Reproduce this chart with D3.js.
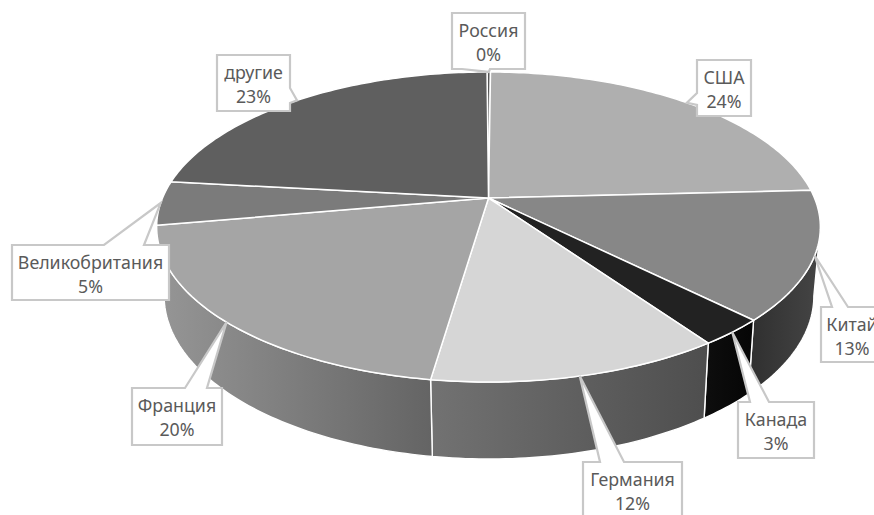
<!DOCTYPE html>
<html lang="ru">
<head>
<meta charset="utf-8">
<script src="https://cdn.jsdelivr.net/npm/d3@7"></script>
<style>
html,body{margin:0;padding:0;background:#fff;overflow:hidden}
svg{display:block}
text{font-family:"Noto Sans",sans-serif;font-size:17.8px;fill:#5a5a5a;text-anchor:middle}
</style>
</head>
<body>
<svg id="chart" width="874" height="515"></svg>
<script>
// Data (order is clockwise from the top)
const categories = ["Россия","США","Китай","Канада","Германия","Франция","Великобритания","другие"];
const shares     = [0.2, 24.1, 13.4, 2.8, 12.0, 19.9, 4.6, 23.2];
const shareLabels = ["0%","24%","13%","3%","12%","20%","5%","23%"];

// Styles
const faceColors = ["#555555","#afafaf","#878787","#222222","#d6d6d6","#a5a5a5","#7b7b7b","#5f5f5f"];
const wallStops  = [null,null,["#2f2f2f","#454545"],["#0e0e0e","#050505"],["#727272","#4e4e4e"],["#969696","#646464"],null,null];

// Label boxes: [x0, y0, x1, y1, edge, tailBaseA, tailBaseB]
const labelBoxes = [
  [452, 13, 525, 69, "bottom", 462, 490],
  [697, 60, 751, 116, "left", 93, 105],
  [821, 307, 900, 362, "top", 832, 848],
  [738, 402, 814, 458, "top", 750, 769],
  [583, 462, 682, 519, "top", 600, 624],
  [132, 388, 222, 445, "top", 185, 207],
  [12, 245, 169, 300, "top", 104, 144],
  [217, 55, 290, 111, "right", 88, 103]
];

// Perspective view of the flat disc
const centre = {x: 488.5, y: 198};
const persp = {a: 326, b: 149.6, k: -0.187};
const topEllipse = {cx: 488.5, cy: 227, rx: 332, ry: 155};
const baseEllipse = {cx: 489, cy: 296, rx: 325, ry: 163};

function project(theta) {
  const u = Math.sin(theta), v = -Math.cos(theta), d = 1 + persp.k * v;
  return [centre.x + persp.a * u / d, centre.y + persp.b * v / d];
}
function projectBase(theta) {
  const [x, y] = project(theta);
  return [
    baseEllipse.cx + baseEllipse.rx * (x - topEllipse.cx) / topEllipse.rx,
    baseEllipse.cy + baseEllipse.ry * (y - topEllipse.cy) / topEllipse.ry
  ];
}
const rad = d => d * Math.PI / 180;
const wallFrom = rad(100.8), wallTo = rad(259.2);

const startAngle = rad(-0.3);
const arcs = d3.pie().sort(null)
  .startAngle(startAngle).endAngle(startAngle + 2 * Math.PI)(shares);

const line = d3.line();
const sample = (a, b) => {
  const n = Math.max(2, Math.ceil(Math.abs(b - a) / rad(1)));
  return d3.range(n + 1).map(i => a + (b - a) * i / n);
};

const svg = d3.select("#chart");
const defs = svg.append("defs");

// Side walls
const walls = arcs.map((d, i) => {
  const a = Math.max(d.startAngle, wallFrom), b = Math.min(d.endAngle, wallTo);
  return {i, a, b, ok: a < b && wallStops[i]};
}).filter(w => w.ok);

walls.forEach(w => {
  const pts = sample(w.a, w.b);
  const upper = pts.map(project), lower = pts.map(projectBase).reverse();
  const xs = upper.concat(lower).map(p => p[0]);
  const grad = defs.append("linearGradient")
    .attr("id", "wall" + w.i).attr("gradientUnits", "userSpaceOnUse")
    .attr("x1", d3.min(xs)).attr("x2", d3.max(xs)).attr("y1", 0).attr("y2", 0);
  grad.append("stop").attr("offset", 0).attr("stop-color", wallStops[w.i][0]);
  grad.append("stop").attr("offset", 1).attr("stop-color", wallStops[w.i][1]);
  svg.append("path")
    .attr("d", line(upper.concat(lower)) + "Z")
    .attr("fill", `url(#wall${w.i})`)
    .attr("stroke", "#fff").attr("stroke-width", 1.4).attr("stroke-linejoin", "round");
});

// Top face
svg.append("g").selectAll("path").data(arcs).join("path")
  .attr("d", d => line([[centre.x, centre.y]].concat(sample(d.startAngle, d.endAngle).map(project))) + "Z")
  .attr("fill", (d, i) => faceColors[i])
  .attr("stroke", "#fff").attr("stroke-width", 1.5).attr("stroke-linejoin", "round");

// Callouts
function callout(box, tip) {
  const [x0, y0, x1, y1, edge, a, b] = box;
  const p = [[x0, y0]];
  if (edge === "top") p.push([a, y0], tip, [b, y0]);
  p.push([x1, y0]);
  if (edge === "right") p.push([x1, a], tip, [x1, b]);
  p.push([x1, y1]);
  if (edge === "bottom") p.push([b, y1], tip, [a, y1]);
  p.push([x0, y1]);
  if (edge === "left") p.push([x0, b], tip, [x0, a]);
  return line(p) + "Z";
}
const labels = svg.append("g").selectAll("g").data(arcs).join("g");
labels.append("path")
  .attr("d", (d, i) => callout(labelBoxes[i], project((d.startAngle + d.endAngle) / 2)))
  .attr("fill", "#fff").attr("stroke", "#c8c8c8").attr("stroke-width", 2.2);
labels.append("text")
  .attr("x", (d, i) => i === 2 ? 852 : (labelBoxes[i][0] + labelBoxes[i][2]) / 2)
  .attr("y", (d, i) => labelBoxes[i][1] + 23.5)
  .text((d, i) => categories[i]);
labels.append("text")
  .attr("x", (d, i) => i === 2 ? 852 : (labelBoxes[i][0] + labelBoxes[i][2]) / 2)
  .attr("y", (d, i) => labelBoxes[i][1] + 48)
  .text((d, i) => shareLabels[i]);
</script>
</body>
</html>
